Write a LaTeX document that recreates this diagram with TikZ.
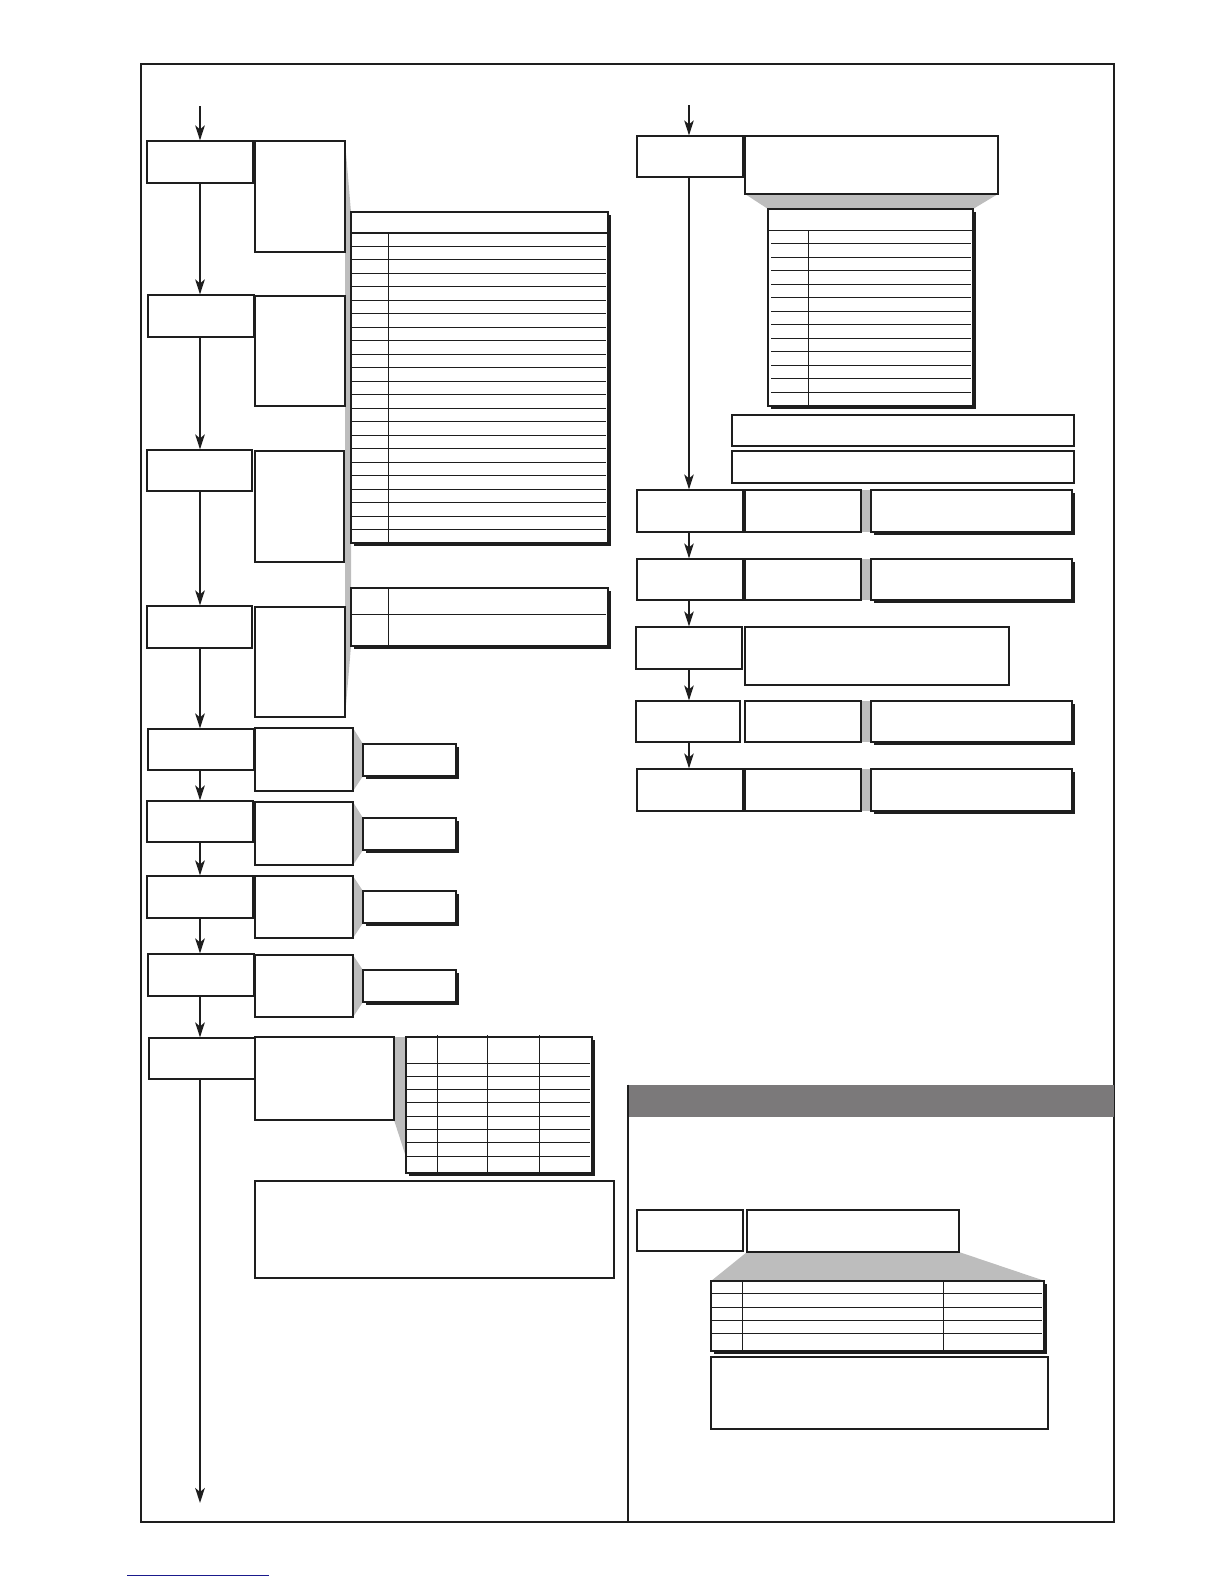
\documentclass[tikz,border=0pt]{standalone}
\usepackage{xcolor}
\usepackage{tikz}
\usetikzlibrary{arrows.meta,fit,shadows}
\definecolor{ink}{HTML}{1E1E1E}
\definecolor{callgray}{HTML}{BDBDBD}
\definecolor{bargray}{HTML}{7B797A}
\definecolor{linkblue}{HTML}{1A1A8C}
\tikzset{
  box/.style={draw=ink, line width=0.6bp, fill=white, inner sep=0pt},
  shbox/.style={box, drop shadow={shadow xshift=1.5bp, shadow yshift=-1.5bp, fill=ink, opacity=1}},
  flow/.style={draw=ink, line width=1bp, -{Stealth[length=7.5bp,width=4.8bp,inset=2bp]}},
  thinflow/.style={flow, line width=0.6bp},
  callout/.style={fill=callgray, draw=none},
  rowline/.style={draw=ink, line width=0.5bp},
  frame/.style={draw=ink, line width=1bp},
}
\begin{document}
\begin{tikzpicture}[x=0.5bp,y=-0.5bp]
  \useasboundingbox (0,0) rectangle (1224,1584);
  % outer frame and bottom-right panel
  \node[frame, inner sep=0pt, fit={(141,64)(1114,1522)}] (page) {};
  \node[fill=bargray, inner sep=0pt, fit={(628,1085)(1114,1117)}] (bar) {};
  \draw[frame] (bar.north west) -- (bar.north west |- page.south);

  % grey callouts
  \fill[callout] (345,141) -- (351,212) -- (351,646) -- (345,717) -- cycle;
  \fill[callout] (353,728) -- (363,744) -- (363,776) -- (353,791) -- cycle;
  \fill[callout] (353,802) -- (363,818) -- (363,850) -- (353,865) -- cycle;
  \fill[callout] (353,876) -- (363,891) -- (363,923) -- (353,938) -- cycle;
  \fill[callout] (353,955) -- (363,970) -- (363,1002) -- (353,1017) -- cycle;
  \fill[callout] (394,1037) -- (406,1037) -- (406,1157) -- (394,1120) -- cycle;
  \fill[callout] (745,194) -- (998,194) -- (973,209) -- (768,209) -- cycle;
  \fill[callout] (861,490) rectangle (871,532);
  \fill[callout] (861,559) rectangle (871,600);
  \fill[callout] (861,701) rectangle (871,742);
  \fill[callout] (861,769) rectangle (871,811);
  \fill[callout] (747,1252) -- (959,1252) -- (1045,1281) -- (711,1281) -- cycle;

  % left column
  \node[box, fit={(147,141)(253,183)}] (L1) {};
  \node[box, fit={(148,295)(254,337)}] (L2) {};
  \node[box, fit={(147,450)(252,491)}] (L3) {};
  \node[box, fit={(147,606)(252,648)}] (L4) {};
  \node[box, fit={(148,729)(254,770)}] (L5) {};
  \node[box, fit={(147,801)(253,842)}] (L6) {};
  \node[box, fit={(147,876)(253,918)}] (L7) {};
  \node[box, fit={(148,954)(254,996)}] (L8) {};
  \node[box, fit={(149,1038)(255,1079)}] (L9) {};

  \node[box, fit={(255,141)(345,252)}] (S1) {};
  \node[box, fit={(255,296)(345,406)}] (S2) {};
  \node[box, fit={(255,451)(344,562)}] (S3) {};
  \node[box, fit={(255,607)(345,717)}] (S4) {};
  \node[box, fit={(255,728)(353,791)}] (S5) {};
  \node[box, fit={(255,802)(353,865)}] (S6) {};
  \node[box, fit={(255,876)(353,938)}] (S7) {};
  \node[box, fit={(255,955)(353,1017)}] (S8) {};
  \node[box, fit={(255,1037)(394,1120)}] (S9) {};

  \node[shbox, fit={(363,744)(456,776)}] (M5) {};
  \node[shbox, fit={(363,818)(456,850)}] (M6) {};
  \node[shbox, fit={(363,891)(456,923)}] (M7) {};
  \node[shbox, fit={(363,970)(456,1002)}] (M8) {};

  % long table
  \node[shbox, fit={(351,212)(608,543)}] (TA) {};
  \draw[rowline, line width=1.2bp] (351,233) -- (608,233);
  \draw[rowline] (388,233) -- (388,543);
  \foreach \k in {1,...,22} {
    \pgfmathsetmacro\yy{233+\k*13.478}
    \draw[rowline] (352,\yy) -- (606,\yy);
  }
  \node[shbox, fit={(351,588)(608,646)}] (TB) {};
  \draw[rowline] (352,614) -- (606,614);
  \draw[rowline] (388,588) -- (388,646);

  % table next to S9
  \node[shbox, fit={(406,1037)(592,1173)}] (T9) {};
  \foreach \xx in {437,487,539}
    \draw[rowline] (\xx,1035) -- (\xx,1173);
  \foreach \k in {0,...,7} {
    \pgfmathsetmacro\yy{1063+\k*13.29}
    \draw[rowline] (407,\yy) -- (590,\yy);
  }
  \node[box, fit={(255,1181)(614,1278)}] (N9) {};

  % left arrows
  \coordinate (inL) at (200,106);
  \coordinate (outL) at (200,1503);
  \draw[flow] (inL) -- (inL |- L1.north);
  \foreach \a/\b in {L1/L2,L2/L3,L3/L4,L4/L5,L5/L6,L6/L7,L7/L8,L8/L9}
    \draw[flow] (\a.south -| inL) -- (inL |- \b.north);
  \draw[flow] (L9.south -| outL) -- (outL);

  % right column
  \node[box, fit={(637,136)(743,177)}] (R1) {};
  \node[box, fit={(745,136)(998,194)}] (RS1) {};
  \node[shbox, fit={(768,209)(973,406)}] (RT) {};
  \draw[rowline] (768,230) -- (973,230);
  \draw[rowline] (808,230) -- (808,406);
  \foreach \k in {1,...,12} {
    \pgfmathsetmacro\yy{230+\k*13.5}
    \draw[rowline] (771,\yy) -- (971,\yy);
  }
  \node[box, fit={(732,415)(1074,446)}] (WA) {};
  \node[box, fit={(732,451)(1074,483)}] (WB) {};

  \node[box, fit={(637,490)(743,532)}] (R2) {};
  \node[box, fit={(745,490)(861,532)}] (RS2) {};
  \node[shbox, fit={(871,490)(1072,532)}] (RW2) {};
  \node[box, fit={(637,559)(743,600)}] (R3) {};
  \node[box, fit={(745,559)(861,600)}] (RS3) {};
  \node[shbox, fit={(871,559)(1072,600)}] (RW3) {};
  \node[box, fit={(636,627)(742,669)}] (R4) {};
  \node[box, fit={(745,627)(1009,685)}] (RS4) {};
  \node[box, fit={(636,701)(740,742)}] (R5) {};
  \node[box, fit={(745,701)(861,742)}] (RS5) {};
  \node[shbox, fit={(871,701)(1072,742)}] (RW5) {};
  \node[box, fit={(637,769)(743,811)}] (R6) {};
  \node[box, fit={(745,769)(861,811)}] (RS6) {};
  \node[shbox, fit={(871,769)(1072,811)}] (RW6) {};

  % right arrows
  \coordinate (inR) at (689,105);
  \draw[thinflow] (inR) -- (inR |- R1.north);
  \draw[thinflow] (R1.south -| inR) -- (inR |- R2.north);
  \foreach \a/\b in {R2/R3,R3/R4,R4/R5,R5/R6}
    \draw[thinflow] (\a.south -| inR) -- (inR |- \b.north);

  % bottom-right panel
  \node[box, fit={(637,1210)(743,1251)}] (B1) {};
  \node[box, fit={(747,1210)(959,1252)}] (B2) {};
  \node[shbox, fit={(711,1281)(1044,1351)}] (BT) {};
  \draw[rowline] (742,1281) -- (742,1351);
  \draw[rowline] (943,1281) -- (943,1351);
  \foreach \yy in {1293,1307,1320,1333}
    \draw[rowline] (712,\yy) -- (1042,\yy);
  \node[box, fit={(711,1357)(1048,1429)}] (BN) {};

  % link underline below the frame
  \draw[linkblue, line width=0.5bp] (127,1575) -- (269,1575);
\end{tikzpicture}
\end{document}
